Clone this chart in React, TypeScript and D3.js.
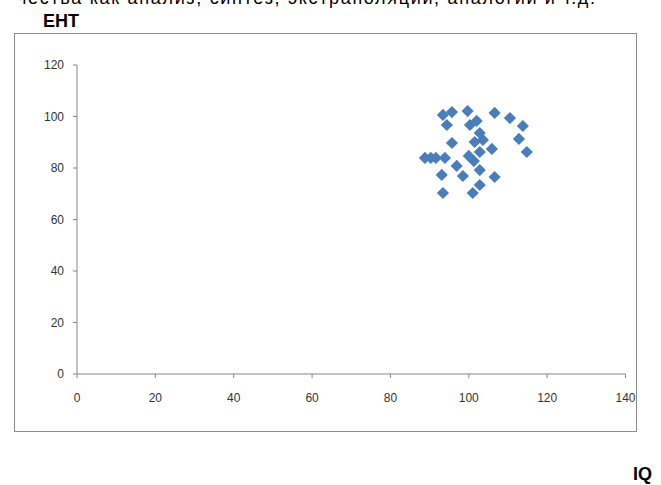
import React from "react";
import * as d3 from "d3";

const iq = [93.4, 95.7, 99.7, 94.4, 100.3, 102.0, 106.6, 110.5, 113.8, 112.8, 114.8, 102.8, 103.6, 101.5, 105.9, 102.8, 100.0, 101.3, 95.7, 93.9, 88.8, 90.3, 91.6, 96.9, 93.1, 98.5, 102.8, 106.6, 102.8, 93.4, 101.0];
const eht = [100.6, 101.7, 102.1, 96.7, 96.7, 98.3, 101.4, 99.4, 96.3, 91.3, 86.2, 93.6, 90.9, 90.1, 87.4, 86.2, 84.7, 82.7, 89.7, 83.9, 83.9, 83.9, 83.9, 80.8, 77.3, 76.9, 79.2, 76.5, 73.4, 70.3, 70.3];
const xTicks = [0, 20, 40, 60, 80, 100, 120, 140];
const yTicks = [0, 20, 40, 60, 80, 100, 120];
const xTickLabels = ["0", "20", "40", "60", "80", "100", "120", "140"];
const yTickLabels = ["0", "20", "40", "60", "80", "100", "120"];
const introText = "чества как анализ, синтез, экстраполяции, аналогии и т.д.";
const yTitle = "ЕНТ";
const xTitle = "IQ";

export default function App() {
  const x = d3.scaleLinear().domain([0, 140]).range([77, 625.5]);
  const y = d3.scaleLinear().domain([0, 120]).range([374, 65]);
  const diamond = d3.symbol(d3.symbolSquare, 74)() as string;
  const axisColor = "#868686";
  const labelColor = "#333333";
  const font = "'Liberation Sans', Arial, sans-serif";
  return (
    <svg
      width={661}
      height={485}
      style={{ position: "absolute", left: 0, top: 0, background: "#fff" }}
    >
      <text
        x={17}
        y={4}
        fontFamily={font}
        fontSize={18}
        fill="#000"
        textLength={578}
        lengthAdjust="spacing"
      >
        {introText}
      </text>
      <text x={43} y={27} fontFamily={font} fontSize={18} fontWeight="bold" fill="#000">
        {yTitle}
      </text>
      <rect x={14.5} y={33.5} width={622} height={398} fill="#fff" stroke="#8c8c8c" strokeWidth={1} />
      <line x1={x(0)} x2={x(0)} y1={y(120)} y2={y(0)} stroke={axisColor} strokeWidth={1} />
      <line x1={x(0)} x2={x(140)} y1={y(0)} y2={y(0)} stroke={axisColor} strokeWidth={1} />
      {yTicks.map((t, i) => (
        <g key={"y" + t}>
          <line x1={x(0) - 4} x2={x(0)} y1={y(t)} y2={y(t)} stroke={axisColor} />
          <text
            x={64}
            y={y(t)}
            dy="0.35em"
            textAnchor="end"
            fontFamily={font}
            fontSize={12}
            fill={labelColor}
          >
            {yTickLabels[i]}
          </text>
        </g>
      ))}
      {xTicks.map((t, i) => (
        <g key={"x" + t}>
          <line x1={x(t)} x2={x(t)} y1={y(0)} y2={y(0) + 4} stroke={axisColor} />
          <text
            x={x(t)}
            y={402}
            textAnchor="middle"
            fontFamily={font}
            fontSize={12}
            fill={labelColor}
          >
            {xTickLabels[i]}
          </text>
        </g>
      ))}
      {iq.map((v, i) => (
        <path
          key={i}
          d={diamond}
          transform={`translate(${x(v)},${y(eht[i])}) rotate(45)`}
          fill="#4A7EBB"
        />
      ))}
      <text x={633} y={480} fontFamily={font} fontSize={18} fontWeight="bold" fill="#000">
        {xTitle}
      </text>
    </svg>
  );
}
